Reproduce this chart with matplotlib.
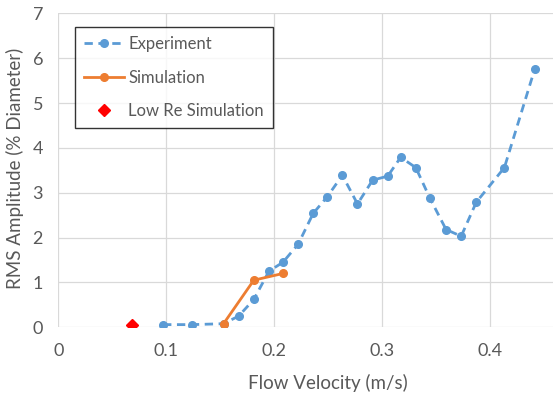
import numpy as np
from matplotlib import pyplot as plt

# experiment points
exp_velocity = [0.097, 0.124, 0.153, 0.167, 0.181, 0.195, 0.208, 0.222, 0.236, 0.249, 0.263,
                0.277, 0.291, 0.305, 0.317, 0.331, 0.344, 0.359, 0.373, 0.387, 0.413, 0.441]
exp_amplitude = [0.06, 0.06, 0.08, 0.25, 0.62, 1.25, 1.45, 1.85, 2.54, 2.91, 3.39,
                 2.75, 3.28, 3.37, 3.79, 3.56, 2.88, 2.18, 2.03, 2.79, 3.56, 5.75]

sim_velocity = [0.153, 0.181, 0.208]
sim_amplitude = [0.08, 1.05, 1.2]

lowre_velocity = [0.068]
lowre_amplitude = [0.06]

x_ticks = [0, 0.1, 0.2, 0.3, 0.4]
x_tick_labels = ['0', '0.1', '0.2', '0.3', '0.4']
y_ticks = [0, 1, 2, 3, 4, 5, 6, 7]

TEXT_COLOR = '#595959'
plt.rcParams['font.family'] = ['Lato', 'DejaVu Sans']

fig = plt.figure(figsize=(5.53, 3.95), dpi=100)
ax = fig.add_axes([0.1054, 0.1714, 0.8946, 0.7949])

ax.plot(exp_velocity, exp_amplitude, color='#5B9BD5', lw=2, linestyle=(0, (3, 2)),
        marker='o', markersize=5.5, label='Experiment', zorder=3)
ax.plot(sim_velocity, sim_amplitude, color='#ED7D31', lw=2, marker='o', markersize=5.5,
        label='Simulation', zorder=4)
ax.plot(lowre_velocity, lowre_amplitude, color='#FF0000', linestyle='none', marker='D',
        markersize=6, label='Low Re Simulation', zorder=5)

ax.set_xlim(0, 0.458)
ax.set_ylim(0, 7)
ax.set_xticks(x_ticks)
ax.set_xticklabels(x_tick_labels)
ax.set_yticks(y_ticks)
ax.grid(color='#D9D9D9', lw=0.9)
ax.set_axisbelow(True)
for spine in ax.spines.values():
    spine.set_visible(False)
ax.tick_params(length=0, labelsize=13, colors=TEXT_COLOR)
ax.tick_params(axis='x', pad=11)
ax.tick_params(axis='y', pad=11)

ax.set_xlabel('Flow Velocity (m/s)', fontsize=13.5, color=TEXT_COLOR, va='center')
ax.xaxis.set_label_coords(0.545, -0.177)
ax.set_ylabel('RMS Amplitude (% Diameter)', fontsize=13.5, color=TEXT_COLOR, va='center')
ax.yaxis.set_label_coords(-0.0875, 0.505)

leg = ax.legend(loc='upper left', bbox_to_anchor=(0.1356, 0.9316), bbox_transform=fig.transFigure,
                borderaxespad=0, frameon=True, fancybox=False, fontsize=12, handlelength=2.4,
                labelspacing=1.05, borderpad=0.55, handletextpad=0.25, labelcolor=TEXT_COLOR)
leg.get_frame().set_edgecolor('black')
leg.get_frame().set_linewidth(1.0)

plt.savefig('out.png', dpi=100)
